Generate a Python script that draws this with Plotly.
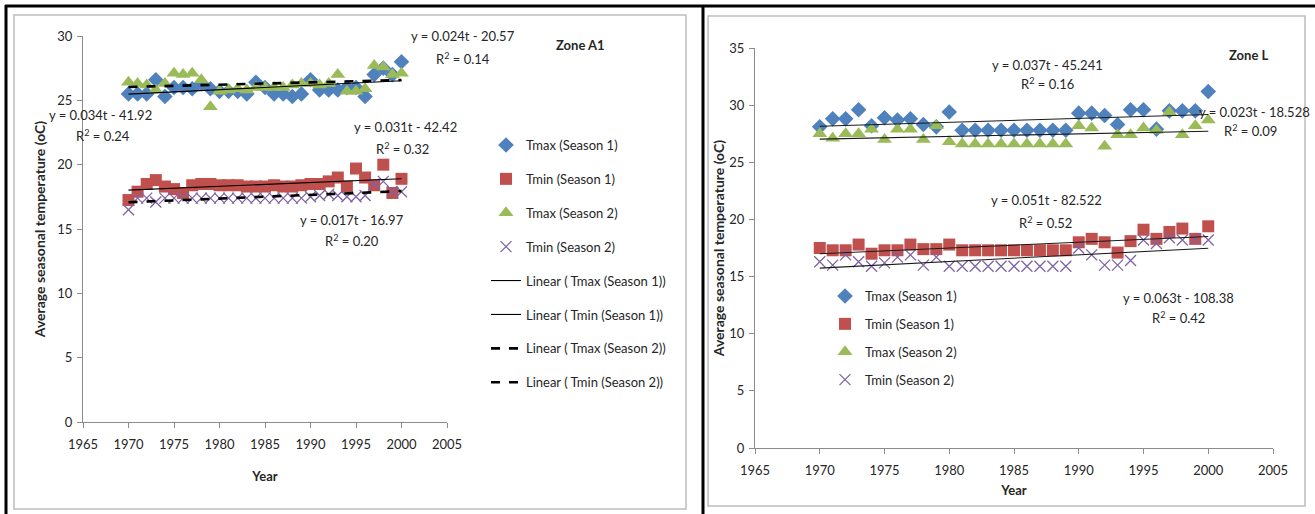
import numpy as np
import plotly.graph_objects as go

years = list(range(1970, 2001))

# Zone A1 (left panel)
a1_tmax_s1 = [25.5, 25.5, 25.5, 26.6, 25.3, 26.0, 26.0, 25.9, 26.3, 25.9, 25.7, 25.7, 25.7, 25.5, 26.4, 26.0,
              25.5, 25.5, 25.3, 25.5, 26.6, 25.8, 25.8, 25.8, 26.0, 26.0, 25.3, 27.0, 27.5, 27.0, 28.0]
a1_tmin_s1 = [17.25, 17.9, 18.5, 18.8, 18.3, 18.1, 17.8, 18.4, 18.5, 18.5, 18.4, 18.4, 18.4, 18.3, 18.3, 18.3,
              18.4, 18.3, 18.3, 18.4, 18.5, 18.5, 18.7, 19.0, 18.3, 19.7, 19.0, 18.4, 20.0, 17.8, 18.9]
a1_tmax_s2 = [26.4, 26.3, 26.2, 25.8, 26.3, 27.1, 27.0, 27.1, 26.6, 24.5, 25.7, 25.8, 25.9, 25.8, 26.0, 26.0,
              26.0, 26.0, 26.2, 26.3, 26.3, 26.2, 26.3, 27.0, 25.7, 25.7, 25.9, 27.7, 27.6, 27.0, 27.1]
a1_tmin_s2 = [16.5, 17.4, 17.4, 17.1, 17.4, 17.4, 17.4, 17.4, 17.4, 17.4, 17.4, 17.4, 17.4, 17.4, 17.4, 17.4,
              17.4, 17.4, 17.4, 17.4, 17.5, 17.6, 17.7, 17.6, 17.5, 17.5, 17.6, 18.5, 18.7, 17.9, 17.9]

# Zone L (right panel)
l_tmax_s1 = [28.1, 28.8, 28.8, 29.6, 28.2, 28.9, 28.7, 28.8, 28.3, 28.1, 29.4, 27.8, 27.8, 27.8, 27.8, 27.8,
             27.8, 27.8, 27.8, 27.8, 29.3, 29.3, 29.1, 28.3, 29.6, 29.6, 27.9, 29.5, 29.5, 29.5, 31.2]
l_tmin_s1 = [17.5, 17.3, 17.3, 17.8, 17.0, 17.3, 17.3, 17.8, 17.4, 17.4, 17.8, 17.3, 17.3, 17.3, 17.3, 17.3,
             17.3, 17.3, 17.3, 17.3, 18.0, 18.3, 18.0, 17.1, 18.1, 19.1, 18.3, 18.9, 19.2, 18.3, 19.4]
l_tmax_s2 = [27.5, 27.1, 27.5, 27.5, 27.9, 27.0, 27.9, 27.9, 27.0, 28.2, 26.8, 26.6, 26.6, 26.6, 26.6, 26.6,
             26.6, 26.6, 26.6, 26.6, 28.2, 28.0, 26.4, 27.4, 27.4, 28.0, 27.8, 29.4, 27.4, 28.2, 28.7]
l_tmin_s2 = [16.3, 16.0, 16.9, 16.3, 15.9, 16.2, 16.7, 16.9, 16.0, 16.7, 15.9, 15.9, 15.9, 15.9, 15.9, 15.9,
             15.9, 15.9, 15.9, 15.9, 17.5, 16.9, 16.0, 16.0, 16.4, 18.2, 17.9, 18.4, 18.2, 18.3, 18.2]

series_names = ["Tmax (Season 1)", "Tmin (Season 1)", "Tmax (Season 2)", "Tmin (Season 2)"]
linear_names = ["Linear ( Tmax (Season 1))", "Linear ( Tmin (Season 1))",
                "Linear ( Tmax (Season 2))", "Linear ( Tmin (Season 2))"]

a1_eq = [("y = 0.024t - 20.57", "R<sup>2</sup> = 0.14"), ("y = 0.034t - 41.92", "R<sup>2</sup> = 0.24"),
         ("y = 0.031t - 42.42", "R<sup>2</sup> = 0.32"), ("y = 0.017t - 16.97", "R<sup>2</sup> = 0.20")]
l_eq = [("y = 0.037t - 45.241", "R<sup>2</sup> = 0.16"), ("y = 0.023t - 18.528", "R<sup>2</sup> = 0.09"),
        ("y = 0.051t - 82.522", "R<sup>2</sup> = 0.52"), ("y = 0.063t - 108.38", "R<sup>2</sup> = 0.42")]

FONT = "Lato, Roboto, sans-serif"
TXT = "#262626"
colors = ["#4F81BD", "#C0504D", "#9BBB59", "#8064A2"]
W, H = 1315, 514


def px(x):
    return x / W


def py(y):
    return 1 - y / H


def marker_for(i):
    if i == 0:
        return dict(symbol="diamond", size=12, color=colors[0])
    if i == 1:
        return dict(symbol="square", size=12, color=colors[1])
    if i == 2:
        return dict(symbol="triangle-up", size=13, color=colors[2])
    return dict(symbol="x-thin", size=11, color=colors[3], line=dict(width=1.3, color=colors[3]))


fig = go.Figure()

# ---------- Left panel (Zone A1) ----------
a1_data = [a1_tmax_s1, a1_tmin_s1, a1_tmax_s2, a1_tmin_s2]
for i, ys in enumerate(a1_data):
    fig.add_trace(go.Scatter(x=years, y=ys, mode="markers", name=series_names[i],
                             marker=marker_for(i), xaxis="x", yaxis="y",
                             legend="legend", legendgroup="a%d" % i))
for i, ys in enumerate(a1_data):
    k, b = np.polyfit(years, ys, 1)
    xs = [years[0], years[-1]]
    dashed = i >= 2
    fig.add_trace(go.Scatter(x=xs, y=[k * x + b for x in xs], mode="lines", name=linear_names[i],
                             line=dict(color="black", width=2.6 if dashed else 1.1,
                                       dash="dash" if dashed else "solid"),
                             xaxis="x", yaxis="y", legend="legend", legendgroup="b%d" % i))

# ---------- Right panel (Zone L) ----------
l_data = [l_tmax_s1, l_tmin_s1, l_tmax_s2, l_tmin_s2]
for i, ys in enumerate(l_data):
    fig.add_trace(go.Scatter(x=years, y=ys, mode="markers", name=series_names[i],
                             marker=marker_for(i), xaxis="x2", yaxis="y2",
                             legend="legend2", legendgroup="c%d" % i))
for i, ys in enumerate(l_data):
    k, b = np.polyfit(years, ys, 1)
    xs = [years[0], years[-1]]
    fig.add_trace(go.Scatter(x=xs, y=[k * x + b for x in xs], mode="lines", showlegend=False,
                             line=dict(color="#1a1a1a", width=1.1),
                             xaxis="x2", yaxis="y2"))

axis_common = dict(showgrid=False, zeroline=False, showline=True, linecolor="#8C8C8C", linewidth=1,
                   ticks="outside", ticklen=5, tickcolor="#8C8C8C", automargin=False,
                   tickfont=dict(family=FONT, size=13, color=TXT))
title_font = dict(family=FONT, size=14, color=TXT)
x_title_font = dict(family=FONT, size=13, color=TXT)

fig.update_layout(
    width=W, height=H, margin=dict(l=0, r=0, t=0, b=0, pad=0, autoexpand=False),
    paper_bgcolor="white", plot_bgcolor="white",
    font=dict(family=FONT, size=13, color=TXT),
    xaxis=dict(domain=[px(83), px(447)], range=[1965, 2005], tick0=1965, dtick=5, anchor="y",
               ticklabelstandoff=5,
               title=dict(text="<b>Year</b>", font=x_title_font, standoff=21),
               **axis_common),
    yaxis=dict(domain=[py(422), py(36)], range=[0, 30], tick0=0, dtick=5, anchor="x",
               ticklabelstandoff=2,
               title=dict(text="<b>Average seasonal temperature (oC)</b>", font=title_font, standoff=8),
               **axis_common),
    xaxis2=dict(domain=[px(755), px(1273)], range=[1965, 2005], tick0=1965, dtick=5, anchor="y2",
                ticklabelstandoff=5,
                title=dict(text="<b>Year</b>", font=x_title_font, standoff=9),
                **axis_common),
    yaxis2=dict(domain=[py(448), py(48)], range=[0, 35], tick0=0, dtick=5, anchor="x2",
                ticklabelstandoff=2,
                title=dict(text="<b>Average seasonal temperature (oC)</b>", font=title_font, standoff=1),
                **axis_common),
    legend=dict(x=px(486), y=py(130), xanchor="left", yanchor="top", bgcolor="rgba(0,0,0,0)",
                font=dict(family=FONT, size=13, color=TXT), traceorder="grouped", tracegroupgap=14,
                itemwidth=30),
    legend2=dict(x=px(825), y=py(281), xanchor="left", yanchor="top", bgcolor="rgba(0,0,0,0)",
                 font=dict(family=FONT, size=13, color=TXT), traceorder="grouped", tracegroupgap=8,
                 itemwidth=30),
    showlegend=True,
)

# frames
shapes = [
    dict(type="line", xref="paper", yref="paper", x0=px(5), x1=1, y0=py(6), y1=py(6),
         line=dict(color="black", width=3)),
    dict(type="line", xref="paper", yref="paper", x0=px(6), x1=px(6), y0=py(5), y1=0,
         line=dict(color="black", width=3)),
    dict(type="line", xref="paper", yref="paper", x0=px(703), x1=px(703), y0=py(5), y1=0,
         line=dict(color="black", width=3)),
    dict(type="rect", xref="paper", yref="paper", x0=px(14), x1=px(686), y0=py(509), y1=py(15),
         line=dict(color="#BDBDBD", width=1.5)),
    dict(type="rect", xref="paper", yref="paper", x0=px(708), x1=px(1305), y0=py(506), y1=py(16),
         line=dict(color="#BDBDBD", width=1.5)),
]
fig.update_layout(shapes=shapes)

ann = []


def add_text(text, x, y, bold=False, size=13, xanchor="center"):
    ann.append(dict(text="<b>%s</b>" % text if bold else text, x=px(x), y=py(y), xref="paper", yref="paper",
                    showarrow=False, xanchor=xanchor, yanchor="middle",
                    font=dict(family=FONT, size=size, color=TXT)))


add_text("Zone A1", 580, 45, bold=True)
add_text(a1_eq[0][0], 463, 36)
add_text(a1_eq[0][1], 463, 58)
add_text(a1_eq[1][0], 101, 115)
add_text(a1_eq[1][1], 103, 136)
add_text(a1_eq[2][0], 405, 127)
add_text(a1_eq[2][1], 402, 148)
add_text(a1_eq[3][0], 352, 220)
add_text(a1_eq[3][1], 352, 240)

add_text("Zone L", 1248, 55, bold=True)
add_text(l_eq[0][0], 1047, 65)
add_text(l_eq[0][1], 1047, 84)
add_text(l_eq[1][0], 1254, 112)
add_text(l_eq[1][1], 1250, 130)
add_text(l_eq[2][0], 1046, 200)
add_text(l_eq[2][1], 1045, 222)
add_text(l_eq[3][0], 1178, 298)
add_text(l_eq[3][1], 1178, 317)

fig.update_layout(annotations=ann)

fig.write_html("out.html")
